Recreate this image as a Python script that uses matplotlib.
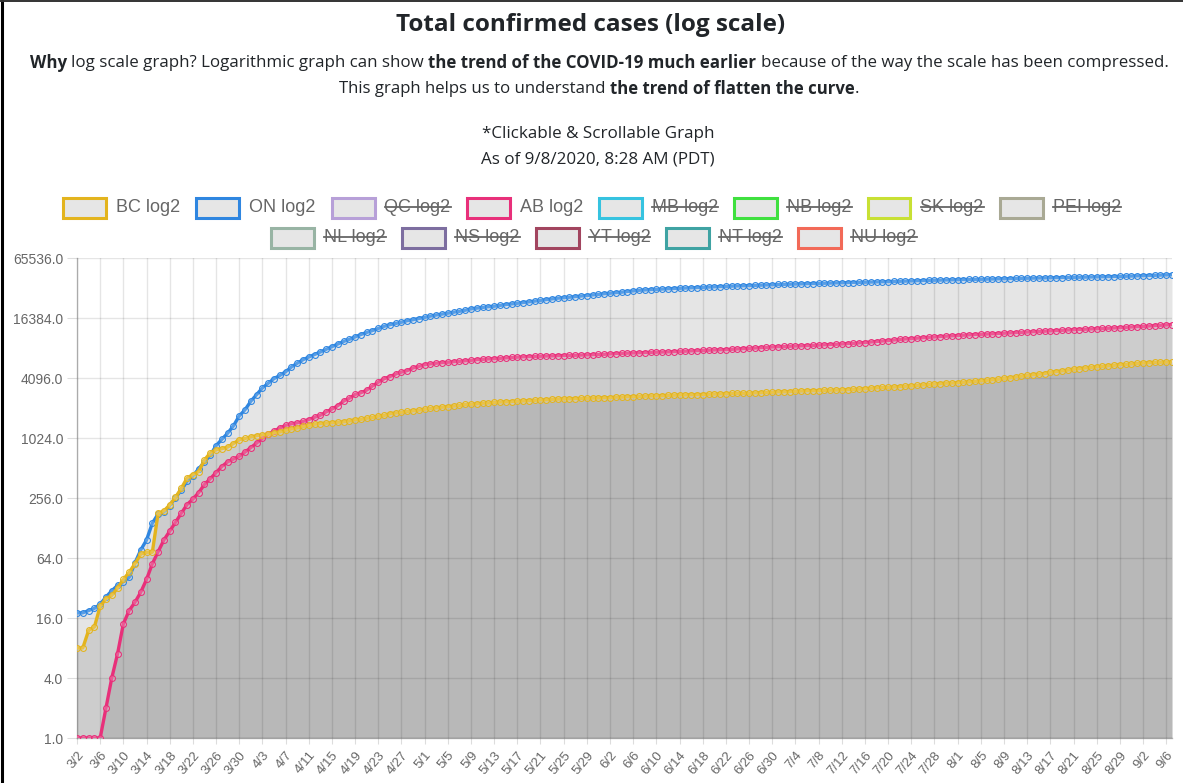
import numpy as np
import pandas as pd
import matplotlib
matplotlib.use("Agg")
import matplotlib.pyplot as plt
from matplotlib.patches import Rectangle
from matplotlib.lines import Line2D
from matplotlib.ticker import NullLocator, FixedLocator, FixedFormatter

plt.rcParams["grid.color"] = "#000000"
plt.rcParams["grid.alpha"] = 0.1
plt.rcParams["grid.linewidth"] = 1.0

W, H = 1183, 783
fig = plt.figure(figsize=(W / 100, H / 100), dpi=100)
fig.patch.set_facecolor("white")

# ---------------- data ----------------
dates = pd.date_range("2020-03-02", "2020-09-07")
date_labels = [f"{d.month}/{d.day}" for d in dates]

bc_cases = [
    8, 8, 12, 13, 21, 25, 27, 32, 39, 46,
    56, 70, 73, 73, 180, 190, 218, 260, 320, 406,
    440, 472, 617, 725, 780, 800, 830, 900, 985, 1013,
    1050, 1080, 1100, 1120, 1150, 1180, 1220, 1266, 1291, 1336,
    1370, 1410, 1430, 1445, 1460, 1475, 1490, 1517, 1561, 1575,
    1618, 1647, 1699, 1724, 1795, 1824, 1853, 1890, 1920, 1950,
    1990, 2030, 2053, 2087, 2112, 2145, 2171, 2224, 2232, 2255,
    2288, 2300, 2330, 2353, 2360, 2376, 2392, 2407, 2428, 2446,
    2467, 2479, 2507, 2517, 2530, 2541, 2550, 2558, 2562, 2573,
    2584, 2597, 2601, 2632, 2632, 2659, 2659, 2680, 2694, 2709,
    2709, 2723, 2745, 2756, 2775, 2775, 2783, 2790, 2797, 2816,
    2822, 2835, 2849, 2869, 2878, 2878, 2878, 2904, 2916, 2940,
    2940, 2978, 2978, 2990, 3008, 3028, 3053, 3053, 3062, 3075,
    3092, 3100, 3115, 3128, 3149, 3170, 3198, 3236, 3262, 3290,
    3300, 3328, 3362, 3392, 3419, 3455, 3500, 3535, 3562, 3591,
    3641, 3641, 3675, 3712, 3739, 3787, 3834, 3881, 3934, 3983,
    4065, 4111, 4196, 4274, 4358, 4416, 4470, 4540, 4677, 4745,
    4825, 4915, 5027, 5100, 5184, 5241, 5304, 5372, 5426, 5496,
    5584, 5603, 5670, 5740, 5790, 5848, 5880, 5900, 5910, 5920,
]

on_cases = [
    18, 18, 19, 20, 22, 26, 30, 34, 37, 41,
    57, 77, 97, 143, 177, 185, 214, 258, 308, 377,
    425, 503, 588, 688, 858, 993, 1144, 1355, 1706, 1966,
    2392, 2793, 3255, 3630, 4038, 4347, 4726, 5276, 5759, 6237,
    6648, 7049, 7470, 7953, 8447, 8961, 9525, 10010, 10578, 11184,
    11735, 12245, 12879, 13519, 14032, 14432, 14856, 15381, 15728, 16187,
    16608, 17119, 17553, 17923, 18310, 18722, 19121, 19598, 20238, 20546,
    20907, 21236, 21494, 21922, 22313, 22653, 23041, 23384, 23774, 24187,
    24628, 25040, 25500, 25904, 26191, 26483, 26866, 27210, 27533, 27859,
    28263, 28709, 29047, 29403, 29747, 30202, 30617, 31090, 31341, 31544,
    31726, 31992, 32189, 32370, 32554, 32744, 32917, 33095, 33301, 33476,
    33637, 33853, 34016, 34205, 34316, 34476, 34654, 34911, 35068, 35217,
    35370, 35535, 35656, 35794, 35948, 36060, 36178, 36348, 36464, 36594,
    36723, 36839, 36950, 37052, 37163, 37274, 37385, 37496, 37604, 37739,
    37942, 38107, 38210, 38405, 38543, 38710, 38910, 39075, 39209, 39333,
    39467, 39556, 39628, 39809, 39897, 39967, 40046, 40194, 40289, 40459,
    40606, 40745, 40870, 40972, 41048, 41179, 41275, 41402, 41507, 41607,
    41687, 41813, 41902, 41986, 42087, 42194, 42309, 42435, 42554, 42686,
    42834, 42972, 43161, 43256, 43536, 43685, 43855, 44068, 44269, 44504,
]

ab_cases = [
    1, 1, 1, 1, 1, 2, 4, 7, 14, 19,
    23, 29, 39, 56, 74, 97, 119, 146, 180, 220,
    250, 290, 350, 400, 460, 530, 590, 630, 670, 740,
    820, 910, 1020, 1120, 1200, 1290, 1370, 1420, 1450, 1500,
    1569, 1651, 1732, 1870, 1996, 2158, 2397, 2562, 2803, 2908,
    3095, 3401, 3720, 4017, 4233, 4480, 4696, 4850, 5165, 5355,
    5573, 5670, 5766, 5836, 5893, 5963, 6017, 6098, 6157, 6253,
    6300, 6345, 6407, 6457, 6515, 6587, 6644, 6683, 6716, 6735,
    6768, 6800, 6818, 6860, 6879, 6900, 6926, 6955, 6983, 7010,
    7057, 7076, 7138, 7202, 7236, 7264, 7316, 7346, 7383, 7398,
    7433, 7453, 7482, 7530, 7579, 7610, 7654, 7703, 7736, 7781,
    7825, 7851, 7888, 7957, 8010, 8067, 8108, 8202, 8259, 8305,
    8389, 8436, 8482, 8519, 8571, 8596, 8642, 8698, 8740, 8800,
    8860, 8921, 8987, 9070, 9114, 9200, 9300, 9400, 9507, 9587,
    9730, 9860, 9975, 10086, 10170, 10288, 10390, 10486, 10580, 10675,
    10760, 10843, 10930, 11020, 11100, 11180, 11230, 11296, 11373, 11430,
    11520, 11610, 11680, 11765, 11840, 11920, 12000, 12085, 12170, 12250,
    12310, 12400, 12490, 12560, 12630, 12700, 12780, 12860, 12930, 13010,
    13100, 13200, 13290, 13380, 13490, 13600, 13720, 13850, 13950, 14060,
]

y_ticks = [1, 4, 16, 64, 256, 1024, 4096, 16384, 65536]
y_tick_labels = [f"{v:.1f}" for v in y_ticks]

legend_labels = ["BC log2", "ON log2", "QC log2", "AB log2", "MB log2", "NB log2",
                 "SK log2", "PEI log2", "NL log2", "NS log2", "YT log2", "NT log2", "NU log2"]
legend_colors = ["#e3b41e", "#2f86e0", "#b7a0d8", "#e8307a", "#36c3e0", "#3fe03f",
                 "#c8e034", "#a9a994", "#98b4a4", "#7d6ea0", "#a2455f", "#3fa3a3", "#f26a58"]
legend_hidden = [False, False, True, False, True, True, True, True,
                 True, True, True, True, True]

# ---------------- plot area ----------------
L, R, T, B = 77, 1172, 258, 738
ax = fig.add_axes([L / W, 1 - B / H, (R - L) / W, (B - T) / H])
x = np.arange(len(dates))

fill_col = (0, 0, 0, 0.1)
series = [(ab_cases, legend_colors[3], 3), (on_cases, legend_colors[1], 4), (bc_cases, legend_colors[0], 5)]
for vals, col, z in series:
    ax.fill_between(x, vals, 1, color=fill_col, lw=0, zorder=1)
for vals, col, z in series:
    ax.plot(x, vals, color=col, lw=2.4, marker="o", ms=4.2, mfc=(1, 1, 1, 0.2),
            mec=col, mew=0.8, zorder=z, solid_joinstyle="round")

ax.set_yscale("log", base=2)
ax.set_ylim(1, 65536)
ax.set_xlim(0, len(dates) - 1)
ax.yaxis.set_major_locator(FixedLocator(y_ticks))
ax.yaxis.set_major_formatter(FixedFormatter(y_tick_labels))
ax.yaxis.set_minor_locator(NullLocator())
ax.set_xticks(x[::4])
ax.set_xticklabels(date_labels[::4], rotation=50, ha="right", va="top",
                   rotation_mode="anchor")
ax.xaxis.set_minor_locator(NullLocator())

ax.set_axisbelow(True)
ax.grid(True, which="major", color="#000000", alpha=0.1, linewidth=1.0)
for s in ["top", "right"]:
    ax.spines[s].set_visible(False)
for s in ["left", "bottom"]:
    ax.spines[s].set_color((0, 0, 0, 0.25))
    ax.spines[s].set_linewidth(1.0)
ax.tick_params(axis="y", length=7, width=0.8, color="#dddddd", pad=3,
               labelsize=10, labelcolor="#666666")
ax.tick_params(axis="x", length=4, width=0.8, color="#dddddd", pad=4,
               labelsize=9.5, labelcolor="#666666")
for lab in ax.get_xticklabels() + ax.get_yticklabels():
    lab.set_fontfamily("Liberation Sans")

# ---------------- texts ----------------
renderer = fig.canvas.get_renderer()
TXT = "#212529"


def tw(s, size, bold=False, family="Open Sans"):
    t = fig.text(0, 0, s, fontsize=size, fontweight="bold" if bold else "normal",
                 family=family)
    w = t.get_window_extent(renderer=renderer).width
    t.remove()
    return w


def rich_line(y_px, parts, size, target_w, cx, family="Open Sans"):
    def total(sz):
        sp = tw("a a", sz, family=family) - tw("aa", sz, family=family)
        widths = [tw(p, sz, b, family) for p, b, _ in parts]
        tot = sum(widths) + sp * sum(1 for _, _, s in parts[1:] if s)
        return tot, widths, sp
    tot, _, _ = total(size)
    size = size * target_w / tot
    tot, widths, sp = total(size)
    xpos = cx - tot / 2
    for i, ((p, b, s), w) in enumerate(zip(parts, widths)):
        if i > 0 and s:
            xpos += sp
        fig.text(xpos / W, 1 - y_px / H, p, fontsize=size, family=family,
                 fontweight="bold" if b else "normal", color=TXT,
                 ha="left", va="center_baseline")
        xpos += w


rich_line(22, [("Total confirmed cases (log scale)", True, False)], 15, 390, 591)
rich_line(61, [("Why", True, False),
               ("log scale graph? Logarithmic graph can show", False, True),
               ("the trend of the COVID-19 much earlier", True, True),
               ("because of the way the scale has been compressed.", False, True)],
          10, 1138, 599)
rich_line(87, [("This graph helps us to understand", False, False),
               ("the trend of flatten the curve", True, True),
               (".", False, False)], 10, 520, 599)
rich_line(132, [("*Clickable & Scrollable Graph", False, False)], 10, 232, 598)
rich_line(157, [("As of 9/8/2020, 8:28 AM (PDT)", False, False)], 10, 235, 598)

# ---------------- legend ----------------
rows = [list(range(0, 8)), list(range(8, 13))]
row_y = [208, 238]
row_cx = [592, 594]
LEG_FS = 13
box_w, box_h, gap, sep = 43, 20, 10, 16
for row, yc, cx in zip(rows, row_y, row_cx):
    widths = [tw(legend_labels[i], LEG_FS, family="Liberation Sans") for i in row]
    tot = sum(box_w + gap + w for w in widths) + sep * (len(row) - 1)
    xpos = cx - tot / 2
    for i, w in zip(row, widths):
        fig.add_artist(Rectangle((xpos / W, 1 - (yc + box_h / 2) / H), box_w / W, box_h / H,
                                 transform=fig.transFigure, facecolor="#e6e6e6",
                                 edgecolor=legend_colors[i], lw=2.2))
        tx = xpos + box_w + gap
        fig.text(tx / W, 1 - yc / H, legend_labels[i], fontsize=LEG_FS,
                 family="Liberation Sans", color="#666666", ha="left", va="center")
        if legend_hidden[i]:
            fig.add_artist(Line2D([tx / W, (tx + w) / W], [1 - (yc - 1) / H] * 2,
                                  transform=fig.transFigure, color="#666666", lw=1.3))
        xpos = tx + w + sep

# ---------------- frame ----------------
fig.add_artist(Line2D([1.5 / W, 1.5 / W], [0, 1], transform=fig.transFigure,
                      color="black", lw=2.2))
fig.add_artist(Line2D([0, 1], [1 - 0.8 / H] * 2, transform=fig.transFigure,
                      color="#333333", lw=1.4))

fig.savefig("out.png", dpi=100, facecolor="white")
